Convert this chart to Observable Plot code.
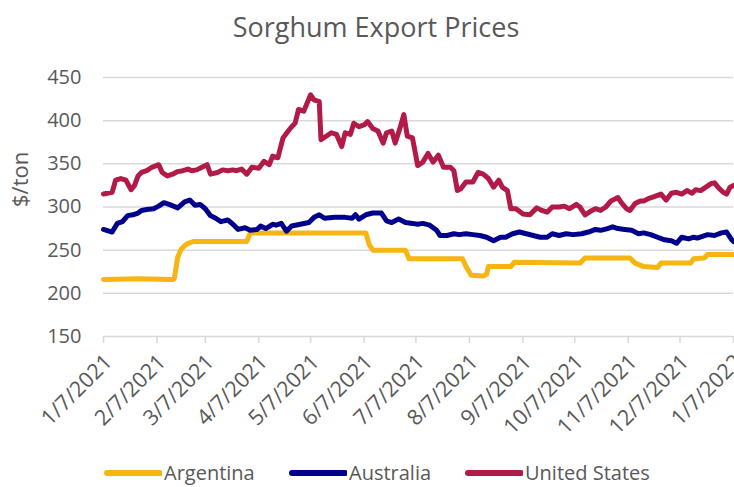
<!DOCTYPE html>
<html>
<head>
<meta charset="utf-8">
<script src="https://cdn.jsdelivr.net/npm/d3@7"></script>
<script src="https://cdn.jsdelivr.net/npm/@observablehq/plot@0.6"></script>
<style>
  html, body { margin: 0; padding: 0; background: #fff; }
  body { width: 734px; height: 487px; overflow: hidden; font-family: "Open Sans", sans-serif; color: #595959; position: relative; }
  #title { height: 50px; line-height: 54px; font-size: 27px; text-align: center; padding-left: 18px; box-sizing: border-box; white-space: nowrap; }
  #legend { position: absolute; left: 0; top: 458px; width: 734px; height: 29px; font-size: 20px; }
  .item { position: absolute; top: 0; display: flex; align-items: center; height: 29px; white-space: nowrap; }
  .item svg { margin-right: 2px; }
</style>
</head>
<body>
<div id="title">Sorghum Export Prices</div>
<div id="chart"></div>
<div id="legend"></div>
<script>
const seriesNames = ["Argentina", "Australia", "United States"];
const seriesColors = ["#F7B512", "#00008C", "#B21A48"];

const xTickDates = ["2021-01-07","2021-02-07","2021-03-07","2021-04-07","2021-05-07","2021-06-07","2021-07-07","2021-08-07","2021-09-07","2021-10-07","2021-11-07","2021-12-07","2022-01-07"];
const yTickValues = [150, 200, 250, 300, 350, 400, 450];

const argentinaDates = ["2021-01-07","2021-01-27","2021-02-16","2021-02-17","2021-02-19","2021-02-21","2021-02-23","2021-02-25","2021-02-28","2021-03-31","2021-04-02","2021-06-08","2021-06-10","2021-06-12","2021-07-01","2021-07-03","2021-08-03","2021-08-05","2021-08-08","2021-08-15","2021-08-17","2021-08-18","2021-08-31","2021-09-02","2021-10-10","2021-10-13","2021-11-08","2021-11-11","2021-11-16","2021-11-24","2021-11-26","2021-12-13","2021-12-15","2021-12-21","2021-12-23","2022-01-07"];
const argentinaValues = [216,217,216,217,242,251,255,258,260,260,270,270,256,250,250,240,240,231,221,220,222,231,231,236,235,241,241,235,231,230,235,235,240,241,245,245];

const australiaDates = ["2021-01-07","2021-01-12","2021-01-15","2021-01-18","2021-01-21","2021-01-24","2021-01-27","2021-01-29","2021-02-01","2021-02-05","2021-02-08","2021-02-11","2021-02-14","2021-02-19","2021-02-23","2021-02-26","2021-03-01","2021-03-04","2021-03-07","2021-03-10","2021-03-13","2021-03-16","2021-03-20","2021-03-23","2021-03-26","2021-03-30","2021-04-02","2021-04-06","2021-04-08","2021-04-11","2021-04-15","2021-04-17","2021-04-20","2021-04-23","2021-04-26","2021-05-01","2021-05-06","2021-05-09","2021-05-12","2021-05-15","2021-05-21","2021-05-27","2021-05-31","2021-06-02","2021-06-04","2021-06-08","2021-06-12","2021-06-17","2021-06-20","2021-06-23","2021-06-27","2021-07-01","2021-07-05","2021-07-08","2021-07-11","2021-07-15","2021-07-19","2021-07-21","2021-07-25","2021-07-29","2021-08-01","2021-08-05","2021-08-09","2021-08-13","2021-08-17","2021-08-21","2021-08-25","2021-08-28","2021-09-01","2021-09-05","2021-09-09","2021-09-13","2021-09-17","2021-09-21","2021-09-24","2021-09-28","2021-10-02","2021-10-06","2021-10-11","2021-10-15","2021-10-19","2021-10-22","2021-10-26","2021-10-29","2021-11-01","2021-11-05","2021-11-09","2021-11-13","2021-11-16","2021-11-20","2021-11-24","2021-11-28","2021-12-02","2021-12-05","2021-12-08","2021-12-12","2021-12-15","2021-12-17","2021-12-20","2021-12-23","2021-12-27","2021-12-31","2022-01-03","2022-01-06","2022-01-07"];
const australiaValues = [274,271,281,283,290,291,293,296,297,298,301,305,303,299,306,308,302,303,298,290,287,283,285,280,274,276,273,274,278,275,280,279,281,272,278,280,282,288,291,287,288,288,287,291,286,291,293,293,284,282,286,282,281,280,281,279,273,267,267,269,268,269,268,267,265,261,265,265,269,271,269,267,265,265,269,267,269,268,269,271,274,273,275,277,275,274,273,269,270,268,265,262,261,258,265,263,265,264,266,268,267,270,271,262,260];

const usDates = ["2021-01-07","2021-01-12","2021-01-14","2021-01-17","2021-01-20","2021-01-23","2021-01-25","2021-01-27","2021-01-29","2021-02-01","2021-02-04","2021-02-08","2021-02-10","2021-02-13","2021-02-16","2021-02-19","2021-02-22","2021-02-25","2021-02-27","2021-03-02","2021-03-05","2021-03-08","2021-03-10","2021-03-14","2021-03-17","2021-03-20","2021-03-23","2021-03-25","2021-03-28","2021-03-31","2021-04-03","2021-04-07","2021-04-10","2021-04-13","2021-04-15","2021-04-18","2021-04-21","2021-04-24","2021-04-26","2021-04-28","2021-04-30","2021-05-03","2021-05-07","2021-05-09","2021-05-12","2021-05-13","2021-05-16","2021-05-19","2021-05-22","2021-05-25","2021-05-27","2021-05-30","2021-06-01","2021-06-04","2021-06-07","2021-06-09","2021-06-12","2021-06-15","2021-06-18","2021-06-20","2021-06-23","2021-06-25","2021-06-28","2021-06-30","2021-07-02","2021-07-05","2021-07-07","2021-07-08","2021-07-11","2021-07-14","2021-07-17","2021-07-20","2021-07-23","2021-07-27","2021-07-29","2021-07-31","2021-08-02","2021-08-05","2021-08-09","2021-08-12","2021-08-15","2021-08-18","2021-08-21","2021-08-24","2021-08-26","2021-08-29","2021-08-31","2021-09-03","2021-09-07","2021-09-11","2021-09-15","2021-09-18","2021-09-21","2021-09-24","2021-09-28","2021-10-01","2021-10-04","2021-10-08","2021-10-10","2021-10-13","2021-10-17","2021-10-19","2021-10-22","2021-10-25","2021-10-28","2021-11-01","2021-11-03","2021-11-06","2021-11-08","2021-11-11","2021-11-14","2021-11-16","2021-11-19","2021-11-22","2021-11-26","2021-11-29","2021-12-02","2021-12-05","2021-12-08","2021-12-11","2021-12-14","2021-12-16","2021-12-19","2021-12-22","2021-12-25","2021-12-27","2021-12-29","2022-01-01","2022-01-03","2022-01-05","2022-01-07"];
const usValues = [315,317,331,333,331,320,325,336,340,342,346,349,340,336,338,341,342,344,342,343,346,349,338,340,343,342,343,342,344,338,346,345,353,349,359,357,380,388,393,397,413,411,430,424,422,378,382,386,384,370,386,384,397,393,395,399,391,388,374,386,388,374,393,407,382,380,359,348,352,362,352,360,346,346,342,319,321,329,329,340,338,333,323,331,323,319,298,298,292,291,299,296,294,300,300,301,298,303,300,291,296,298,296,300,307,311,305,298,296,304,307,307,310,312,315,308,316,317,315,319,316,320,319,323,327,328,323,317,315,323,325];

const parse = d3.utcParse("%Y-%m-%d");
const allDates = [argentinaDates, australiaDates, usDates];
const allValues = [argentinaValues, australiaValues, usValues];
const data = seriesNames.flatMap((name, i) =>
  allDates[i].map((d, j) => ({series: name, date: parse(d), value: allValues[i][j]}))
);

const fmt = d => `${d.getUTCMonth() + 1}/${d.getUTCDate()}/${d.getUTCFullYear()}`;
const xTicks = xTickDates.map(parse);

const chart = Plot.plot({
  width: 734,
  height: 408,
  marginLeft: 103,
  marginRight: 1,
  marginTop: 27,
  marginBottom: 122,
  style: {fontFamily: "Open Sans, sans-serif", color: "#595959", background: "#fff", overflow: "visible"},
  x: {type: "utc", domain: [xTicks[0], xTicks[xTicks.length - 1]]},
  y: {domain: [150, 450]},
  color: {domain: seriesNames, range: seriesColors},
  marks: [
    Plot.gridY(yTickValues.filter(v => v > 150), {stroke: "#d9d9d9", strokeOpacity: 1, strokeWidth: 1.5}),
    Plot.ruleY([150], {stroke: "#d9d9d9", strokeWidth: 1.5}),
    Plot.axisY(yTickValues, {tickSize: 0, tickPadding: 22, fontSize: 20, label: null}),
    Plot.axisX(xTicks, {tickSize: 7, tickFormat: () => "", stroke: "#d9d9d9", strokeWidth: 1.5, strokeOpacity: 1, label: null}),
    Plot.axisX(xTicks, {tickSize: 0, tickPadding: 22, tickRotate: -45, tickFormat: fmt, fontSize: 21.5, dx: 5, label: null}),
    Plot.text(["$/ton"], {frameAnchor: "left", dx: -83, rotate: -90, fontSize: 22, fill: "#595959"}),
    Plot.line(data, {x: "date", y: "value", z: "series", stroke: "series", strokeWidth: 5, strokeLinejoin: "round", strokeLinecap: "round"})
  ]
});
document.getElementById("chart").appendChild(chart);

const legend = document.getElementById("legend");
const itemLeft = [104, 289, 465];
seriesNames.forEach((name, i) => {
  const item = document.createElement("div");
  item.className = "item";
  item.style.left = itemLeft[i] + "px";
  item.innerHTML = `<svg width="58" height="10"><line x1="3" y1="5" x2="56" y2="5" stroke="${seriesColors[i]}" stroke-width="6" stroke-linecap="round"/></svg><span>${name}</span>`;
  legend.appendChild(item);
});
</script>
</body>
</html>
